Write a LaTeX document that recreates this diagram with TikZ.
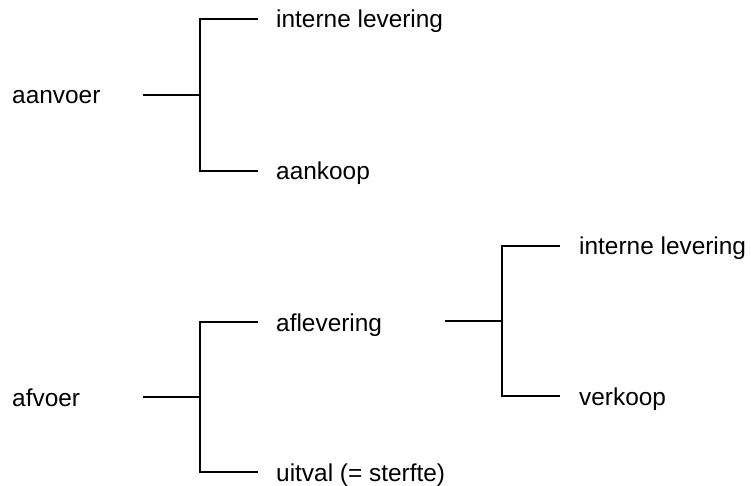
\documentclass[tikz,border=0pt]{standalone}
\usepackage{fontspec}
\setmainfont{Liberation Sans}
\begin{document}
\begin{tikzpicture}[x=1bp,y=-1bp,
  lbl/.style={anchor=base west,inner sep=0pt,font=\fontsize{24.5}{28}\selectfont},
  conn/.style={line width=1.6bp,line cap=rect}]
\useasboundingbox (0,0) rectangle (751,486);
% top tree
\node[lbl] (aanvoer) at (12,104) {aanvoer};
\node[lbl] (il1) at (276,28) {interne levering};
\node[lbl] (aankoop) at (276,180) {aankoop};
\coordinate (s1) at (144,95);
\coordinate (j1) at (200,95);
\coordinate (t1) at (200,19);
\coordinate (b1) at (200,171);
\coordinate (e1a) at (257,19);
\coordinate (e1b) at (257,171);
\draw[conn] (s1) -- (j1);
\draw[conn] (e1a) -- (t1) -- (b1) -- (e1b);
% bottom tree
\node[lbl] (afvoer) at (12,406) {afvoer};
\node[lbl] (aflev) at (276,331) {aflevering};
\node[lbl] (uitval) at (276,481) {uitval (= sterfte)};
\coordinate (s2) at (144,397);
\coordinate (j2) at (200,397);
\coordinate (t2) at (200,322);
\coordinate (b2) at (200,472);
\coordinate (e2a) at (257,322);
\coordinate (e2b) at (257,472);
\draw[conn] (s2) -- (j2);
\draw[conn] (e2a) -- (t2) -- (b2) -- (e2b);
% right sub-tree
\node[lbl] (il2) at (579,255) {interne levering};
\node[lbl] (verkoop) at (579,405) {verkoop};
\coordinate (s3) at (446,321);
\coordinate (j3) at (502,321);
\coordinate (t3) at (502,246);
\coordinate (b3) at (502,396);
\coordinate (e3a) at (559,246);
\coordinate (e3b) at (559,396);
\draw[conn] (s3) -- (j3);
\draw[conn] (e3a) -- (t3) -- (b3) -- (e3b);
\end{tikzpicture}
\end{document}
